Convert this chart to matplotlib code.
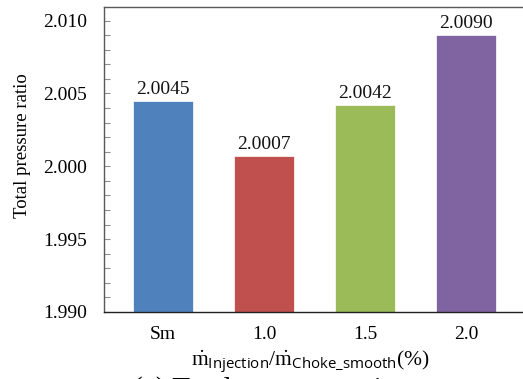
import matplotlib
matplotlib.use("Agg")
import matplotlib.pyplot as plt
from matplotlib.ticker import MultipleLocator

categories = ["Sm", "1.0", "1.5", "2.0"]
values = [2.0045, 2.0007, 2.0042, 2.0090]
labels = ["2.0045", "2.0007", "2.0042", "2.0090"]
colors = ["#4F81BD", "#C0504D", "#9BBB59", "#8064A2"]
yticks = [1.990, 1.995, 2.000, 2.005, 2.010]

plt.rcParams["font.family"] = ["Liberation Serif", "DejaVu Serif"]
plt.rcParams["mathtext.fontset"] = "custom"
plt.rcParams["mathtext.rm"] = "Liberation Serif"
plt.rcParams["mathtext.it"] = "Liberation Serif:italic"
plt.rcParams["mathtext.sf"] = "Open Sans"

W, H = 523, 379
fig = plt.figure(figsize=(W / 100, H / 100), dpi=100)
left, right, bottom, top = 104, 527, 312, 7
ax = fig.add_axes([left / W, 1 - bottom / H, (right - left) / W, (bottom - top) / H])

x = list(range(len(categories)))
bars = ax.bar(x, [v - 1.990 for v in values], bottom=1.990, width=0.594,
              color=colors, edgecolor="white", linewidth=0.5, zorder=2)
for xi, v, lab in zip(x, values, labels):
    ax.annotate(lab, (xi, v), xytext=(0, 2), textcoords="offset points",
                ha="center", va="bottom", fontsize=14, color="#111111")

ax.set_xlim(-0.584, 3.6)
ax.set_ylim(1.990, 2.01093)
ax.set_xticks(x)
ax.set_xticklabels(categories)
ax.set_yticks(yticks)
ax.set_yticklabels([f"{t:.3f}" for t in yticks])
ax.yaxis.set_minor_locator(MultipleLocator(0.001))
ax.tick_params(axis="y", which="both", direction="in", length=4, width=0.8,
               color="#909090", labelsize=14, pad=12)
ax.tick_params(axis="x", which="both", length=0, labelsize=14, pad=10)
ax.spines["right"].set_visible(False)
for s in ["left", "top"]:
    ax.spines[s].set_color("#595959")
    ax.spines[s].set_linewidth(1.0)
ax.spines["bottom"].set_color("#222222")
ax.spines["bottom"].set_linewidth(1.0)

fig.text(23 / W, 1 - 145.5 / H, "Total pressure ratio", rotation=90,
         ha="center", va="center", fontsize=13.5)
fig.text(310 / W, 1 - 366 / H,
         r"$\mathrm{\dot{m}}_{\mathsf{Injection}}/\mathrm{\dot{m}}_{\mathsf{Choke\_smooth}}$(%)",
         ha="center", va="baseline", fontsize=15.5)
fig.text(133 / W, 1 - 397 / H, "(a) Total pressure ratio", ha="left",
         va="baseline", fontsize=21)

fig.savefig("out.png", dpi=100)
